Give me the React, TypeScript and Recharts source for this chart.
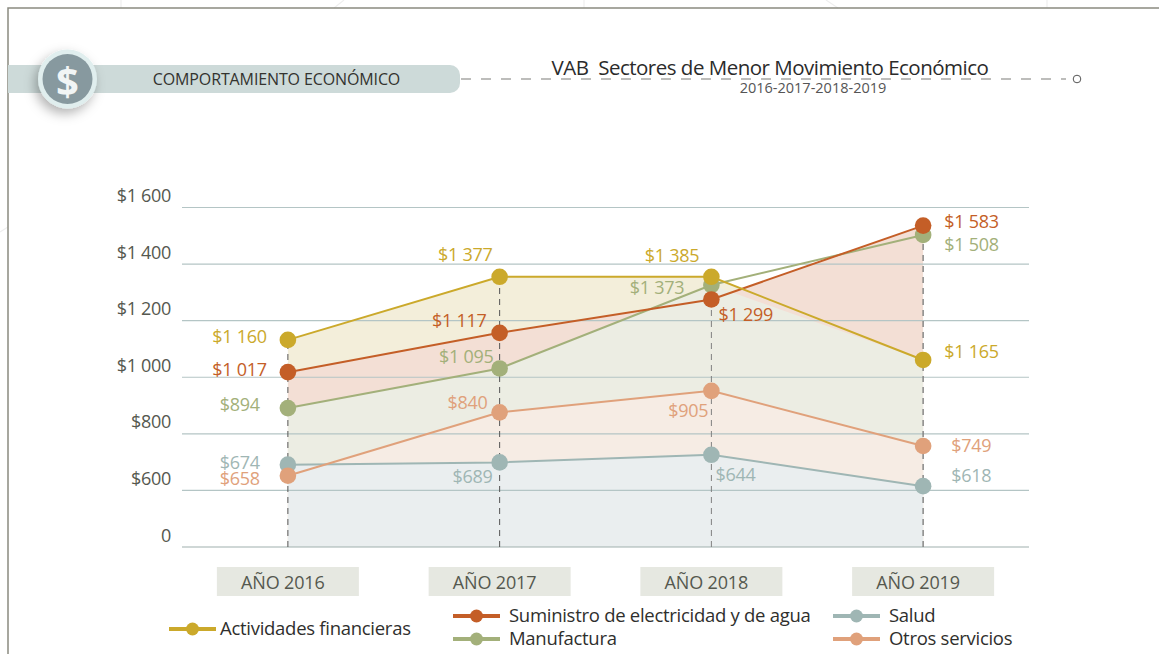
import {
  Area,
  ComposedChart,
  Line,
  ReferenceLine,
  XAxis,
  YAxis,
} from "recharts";

const FONT = "'Open Sans', 'Noto Sans', sans-serif";

const years = ["AÑO 2016", "AÑO 2017", "AÑO 2018", "AÑO 2019"];
const yTicks = [400, 600, 800, 1000, 1200, 1400, 1600];
const yTickLabels = ["0", "$600", "$800", "$1 000", "$1 200", "$1 400", "$1 600"];

// positions read off the gridlines (the printed labels do not sit on the same scale)
const actividades = [1132, 1355, 1355, 1061];
const suministro = [1018, 1157, 1275, 1536];
const manufactura = [891, 1031, 1326, 1503];
const salud = [691, 699, 726, 615];
const otros = [652, 876, 952, 757];
// the green band stops at the yellow line after 2018
const manufacturaBand = [891, 1031, 1326, 1061];

const actividadesLabels = ["$1 160", "$1 377", "$1 385", "$1 165"];
const suministroLabels = ["$1 017", "$1 117", "$1 299", "$1 583"];
const manufacturaLabels = ["$894", "$1 095", "$1 373", "$1 508"];
const saludLabels = ["$674", "$689", "$644", "$618"];
const otrosLabels = ["$658", "$840", "$905", "$749"];

const data = years.map((year, i) => ({
  year,
  actividades: actividades[i],
  suministro: suministro[i],
  manufactura: manufactura[i],
  salud: salud[i],
  otros: otros[i],
  manufacturaBand: manufacturaBand[i],
}));

const colors = {
  actividades: "#cba92b",
  suministro: "#c45e27",
  manufactura: "#a3b07a",
  salud: "#9fb6b4",
  otros: "#e0a17b",
};

// label nudges per point: [anchor, dx, dy]
type Nudge = ["start" | "end", number, number];
const actividadesNudge: Nudge[] = [["end", -21, -4], ["end", -7, -23], ["end", -12, -22], ["start", 21, -9]];
const suministroNudge: Nudge[] = [["end", -21, -3], ["end", -13, -13], ["start", 7, 15], ["start", 21, -5]];
const manufacturaNudge: Nudge[] = [["end", -28, -4], ["end", -6, -12], ["end", -27, 2], ["start", 21, 9]];
const saludNudge: Nudge[] = [["end", -28, -3], ["end", -7, 14], ["start", 4, 19], ["start", 28, -11]];
const otrosNudge: Nudge[] = [["end", -28, 2], ["end", -12, -10], ["end", -3, 19], ["start", 28, -1]];

const pointLabel = (labels: string[], nudges: Nudge[], color: string) => (p: any) => {
  const [anchor, dx, dy] = nudges[p.index];
  return (
    <text
      key={p.index}
      x={p.x + dx}
      y={p.y + dy}
      textAnchor={anchor}
      dominantBaseline="central"
      fill={color}
      fontFamily={FONT}
      fontSize={18}
      letterSpacing={-0.25}
    >
      {labels[p.index]}
    </text>
  );
};

const YTick = ({ x, y, payload }: any) => (
  <text
    x={x + 6}
    y={y - 12.5}
    textAnchor="end"
    dominantBaseline="central"
    fill="#55584f"
    fontFamily={FONT}
    fontSize={18}
    letterSpacing={-0.3}
  >
    {yTickLabels[yTicks.indexOf(payload.value)]}
  </text>
);

const XTick = ({ x, y, payload }: any) => (
  <g>
    <rect x={x - 71} y={y} width={142} height={29} fill="#e6e8e1" />
    <text
      x={x - 5}
      y={y + 14.5}
      textAnchor="middle"
      dominantBaseline="central"
      fill="#55584f"
      fontFamily={FONT}
      fontSize={18}
      letterSpacing={-0.15}
    >
      {payload.value}
    </text>
  </g>
);

function LegendItem({ name, color, left, top, textLeft }: any) {
  return (
    <div style={{ position: "absolute", left, top, height: 20 }}>
      <svg width={48} height={20} style={{ position: "absolute", left: 0, top: 0 }}>
        <line x1={0} x2={47} y1={10} y2={10} stroke={color} strokeWidth={4} />
        <circle cx={23.5} cy={10} r={6.5} fill={color} />
      </svg>
      <span
        style={{
          position: "absolute",
          left: textLeft,
          top: -3.5,
          whiteSpace: "nowrap",
          fontFamily: FONT,
          fontSize: 18.5,
          letterSpacing: -0.28,
          color: "#2f2f2d",
          lineHeight: "24px",
        }}
      >
        {name}
      </span>
    </div>
  );
}

function Header() {
  return (
    <svg width={1159} height={654} style={{ position: "absolute", left: 0, top: 0 }}>
      <defs>
        <filter id="badge" x="-40%" y="-40%" width="180%" height="180%">
          <feDropShadow dx={-3} dy={5} stdDeviation={6} floodColor="#000" floodOpacity={0.3} />
        </filter>
      </defs>
      {/* faint page decoration peeking out round the frame */}
      <path d="M121 0 V8 M344 0 L334 8 M584 0 V8 M826 0 L838 8 M1047 0 V8 M0 232 L8 227" fill="none" stroke="#efefef" strokeWidth={1.2} />
      <path d="M8 654 V8 H1159" fill="none" stroke="#8a8a80" strokeWidth={1.5} />
      <path d="M8 65 H450 a10 10 0 0 1 10 10 V83 a10 10 0 0 1 -10 10 H8 Z" fill="#cddad9" />
      <line x1={461} x2={1066} y1={79} y2={79} stroke="#7d7d78" strokeWidth={1.2} strokeDasharray="10 10" />
      <circle cx={1077} cy={79} r={3.8} fill="#fff" stroke="#555" strokeWidth={1} />
      <circle cx={67.5} cy={79} r={29.5} fill="#e0eeee" filter="url(#badge)" />
      <circle cx={67.5} cy={79} r={25} fill="#87999f" />
      <text
        x={67.5}
        y={80}
        textAnchor="middle"
        dominantBaseline="central"
        fill="#f1f5f5"
        fontFamily={FONT}
        fontSize={40}
        fontWeight={700}
      >
        $
      </text>
      <text x={276.5} y={79} textAnchor="middle" dominantBaseline="central" fill="#33332f" fontFamily={FONT} fontSize={16} letterSpacing={-0.12}>
        COMPORTAMIENTO ECONÓMICO
      </text>
      <text x={770} y={67} textAnchor="middle" dominantBaseline="central" fill="#2b2b2b" fontFamily={FONT} fontSize={20.5} letterSpacing={-0.5} style={{ whiteSpace: "pre" }}>
        {"VAB  Sectores de Menor Movimiento Económico"}
      </text>
      <text x={813} y={87} textAnchor="middle" dominantBaseline="central" fill="#555" fontFamily={FONT} fontSize={14.5}>
        2016-2017-2018-2019
      </text>
    </svg>
  );
}

export default function App() {
  return (
    <div style={{ position: "absolute", left: 0, top: 0, width: 1159, height: 654, overflow: "hidden", background: "#fff" }}>
      <Header />
      <div style={{ position: "absolute", left: 0, top: 0 }}>
        <ComposedChart
          width={1159}
          height={654}
          data={data}
          margin={{ top: 207.5, right: 130, bottom: 64, left: 122 }}
        >
          <XAxis dataKey="year" scale="band" axisLine={false} tickLine={false} height={43} tick={<XTick />} tickMargin={14} interval={0} />
          <YAxis domain={[400, 1600]} ticks={yTicks} width={60} axisLine={false} tickLine={false} tick={<YTick />} tickMargin={11} interval={0} />

          <Area dataKey="actividades" stroke="none" fill="#f3eeda" fillOpacity={1} isAnimationActive={false} />
          <Area dataKey="suministro" stroke="none" fill="#f3dfd5" fillOpacity={1} isAnimationActive={false} />
          <Area dataKey="manufacturaBand" stroke="none" fill="#ecede3" fillOpacity={1} isAnimationActive={false} />
          <Area dataKey="otros" stroke="none" fill="#f6ece4" fillOpacity={1} isAnimationActive={false} />
          <Area dataKey="salud" stroke="none" fill="#eaeeef" fillOpacity={1} isAnimationActive={false} />

          {yTicks.map((t) => (
            <ReferenceLine key={t} y={t} stroke={t === 400 ? "#9fb0ae" : "#b4c5c5"} strokeWidth={1.2} />
          ))}

          {years.map((year, i) => (
            <ReferenceLine
              key={year}
              segment={[
                { x: year, y: 400 },
                { x: year, y: Math.max(actividades[i], suministro[i], manufactura[i], salud[i], otros[i]) },
              ]}
              stroke={i < 2 ? "#555" : "#808080"}
              strokeWidth={i < 3 ? 1 : 1.4}
              strokeDasharray="6 5"
            />
          ))}

          <Line dataKey="salud" stroke={colors.salud} strokeWidth={2} dot={{ r: 8.3, fill: colors.salud, stroke: "none" }} label={pointLabel(saludLabels, saludNudge, colors.salud)} isAnimationActive={false} />
          <Line dataKey="otros" stroke={colors.otros} strokeWidth={2} dot={{ r: 8.3, fill: colors.otros, stroke: "none" }} label={pointLabel(otrosLabels, otrosNudge, colors.otros)} isAnimationActive={false} />
          <Line dataKey="manufactura" stroke={colors.manufactura} strokeWidth={2} dot={{ r: 8.3, fill: colors.manufactura, stroke: "none" }} label={pointLabel(manufacturaLabels, manufacturaNudge, colors.manufactura)} isAnimationActive={false} />
          <Line dataKey="suministro" stroke={colors.suministro} strokeWidth={2} dot={{ r: 8.3, fill: colors.suministro, stroke: "none" }} label={pointLabel(suministroLabels, suministroNudge, colors.suministro)} isAnimationActive={false} />
          <Line dataKey="actividades" stroke={colors.actividades} strokeWidth={2} dot={{ r: 8.3, fill: colors.actividades, stroke: "none" }} label={pointLabel(actividadesLabels, actividadesNudge, colors.actividades)} isAnimationActive={false} />
        </ComposedChart>
      </div>
      <LegendItem name="Actividades financieras" color={colors.actividades} left={169} top={619} textLeft={51} />
      <LegendItem name="Suministro de electricidad y de agua" color={colors.suministro} left={453} top={606} textLeft={56} />
      <LegendItem name="Manufactura" color={colors.manufactura} left={453} top={629} textLeft={56} />
      <LegendItem name="Salud" color={colors.salud} left={833} top={606} textLeft={56} />
      <LegendItem name="Otros servicios" color={colors.otros} left={833} top={629} textLeft={56} />
    </div>
  );
}
